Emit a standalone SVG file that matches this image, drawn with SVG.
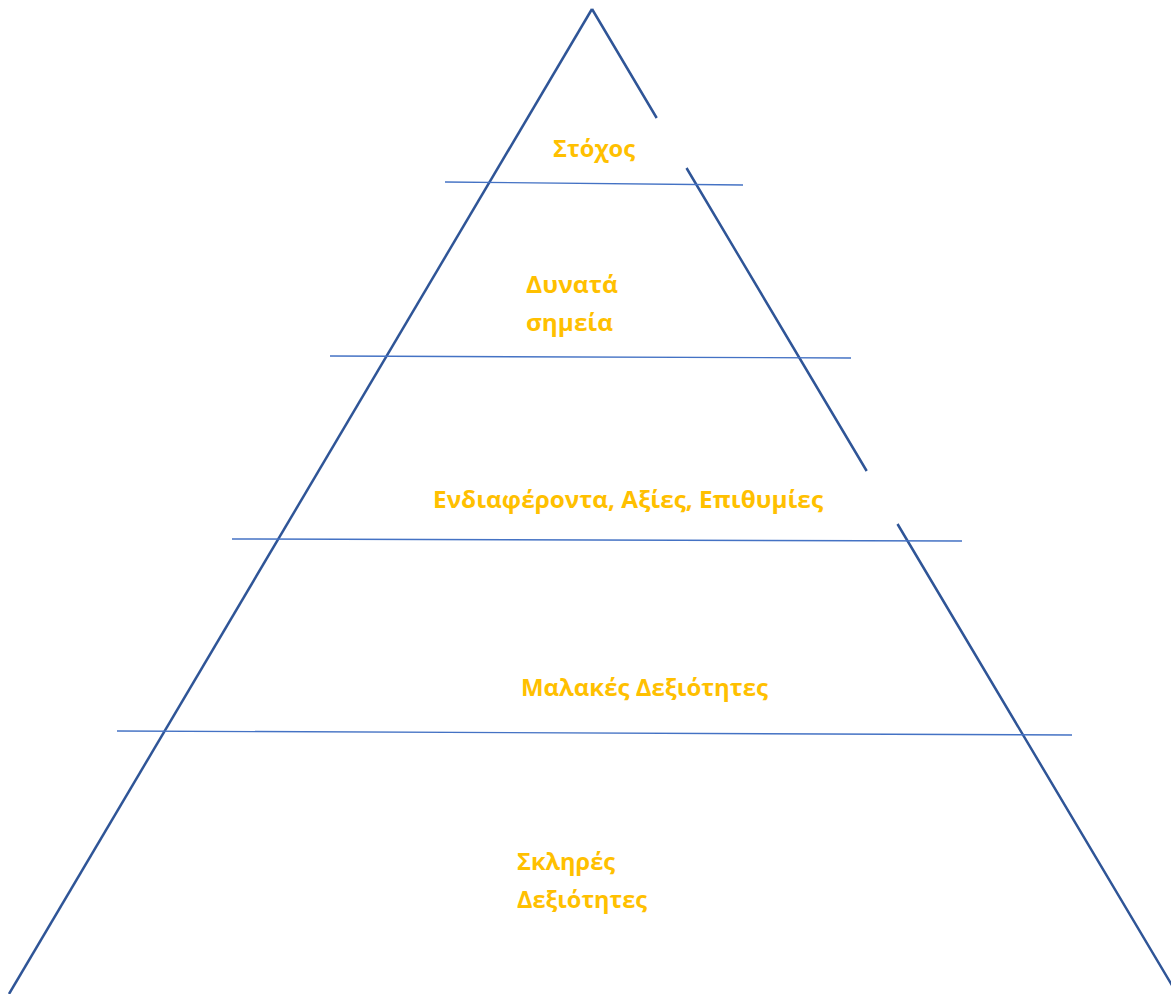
<svg xmlns="http://www.w3.org/2000/svg" width="1171" height="994" viewBox="0 0 1171 994">
<style>
.side{fill:none;stroke:#2F5597;stroke-width:2.5;stroke-linecap:butt}
.div{fill:none;stroke:#4472C4;stroke-width:1.4}
.lbl{font-family:"Open Sans","Noto Sans",sans-serif;font-weight:bold;font-size:24px;fill:#FFC000}
</style>
<rect width="1171" height="994" fill="#ffffff"/>
<g id="connectors">
<path id="left-side" class="side" d="M592,9 L9,994"/>
<path id="right-side" class="side" d="M592,9 L656.7,118 M686.5,168 L866.7,471 M897.5,524 L1176,992"/>
<path id="div1" class="div" d="M445,182 L743,185"/>
<path id="div2" class="div" d="M330,356 L851,358"/>
<path id="div3" class="div" d="M232,539 L962,541"/>
<path id="div4" class="div" d="M117,731 L1072,735"/>
</g>
<g id="level-goal"><text class="lbl" x="553" y="157" textLength="82" lengthAdjust="spacingAndGlyphs">Στόχος</text></g>
<g id="level-strengths">
<text class="lbl" x="526" y="293" textLength="92" lengthAdjust="spacingAndGlyphs">Δυνατά</text>
<text class="lbl" x="526" y="331" textLength="87" lengthAdjust="spacingAndGlyphs">σημεία</text>
</g>
<g id="level-interests"><text class="lbl" x="433" y="508" textLength="390" lengthAdjust="spacingAndGlyphs">Ενδιαφέροντα, Αξίες, Επιθυμίες</text></g>
<g id="level-soft"><text class="lbl" x="521" y="696" textLength="247" lengthAdjust="spacingAndGlyphs">Μαλακές Δεξιότητες</text></g>
<g id="level-hard">
<text class="lbl" x="517" y="870" textLength="98" lengthAdjust="spacingAndGlyphs">Σκληρές</text>
<text class="lbl" x="517" y="908" textLength="130" lengthAdjust="spacingAndGlyphs">Δεξιότητες</text>
</g>
</svg>
